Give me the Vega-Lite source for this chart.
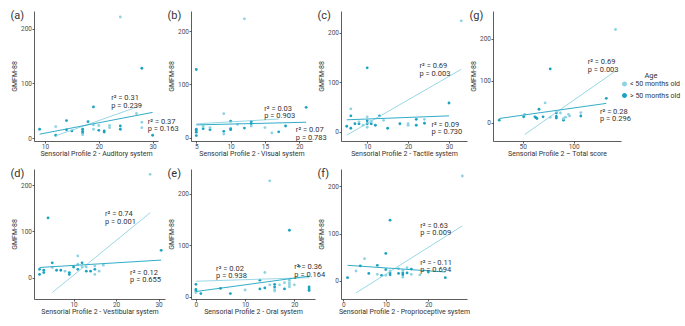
{
"$schema": "https://vega.github.io/schema/vega-lite/v6.json",
"padding": {"left": 10, "top": 10, "right": 5, "bottom": 5},
"background": "white",
"columns": 4,
"bounds": "flush",
"spacing": {"row": 28, "column": 26},
"resolve": {"scale": {"color": "independent", "stroke": "independent"}, "legend": {"color": "independent"}},
"datasets": {
"points": [
{"panel":"a","x":28,"y":128,"Age":"> 50 months old"},{"panel":"a","x":19,"y":57,"Age":"> 50 months old"},{"panel":"a","x":14,"y":32,"Age":"> 50 months old"},{"panel":"a","x":18,"y":30,"Age":"> 50 months old"},{"panel":"a","x":9,"y":16,"Age":"> 50 months old"},{"panel":"a","x":12,"y":5,"Age":"> 50 months old"},{"panel":"a","x":14,"y":15,"Age":"> 50 months old"},{"panel":"a","x":15,"y":13,"Age":"> 50 months old"},{"panel":"a","x":17,"y":16,"Age":"> 50 months old"},{"panel":"a","x":17,"y":12,"Age":"> 50 months old"},{"panel":"a","x":17,"y":9,"Age":"> 50 months old"},{"panel":"a","x":20,"y":14,"Age":"> 50 months old"},{"panel":"a","x":21,"y":13,"Age":"> 50 months old"},{"panel":"a","x":21,"y":11,"Age":"> 50 months old"},{"panel":"a","x":24,"y":22,"Age":"> 50 months old"},{"panel":"a","x":24,"y":16,"Age":"> 50 months old"},{"panel":"a","x":30,"y":5,"Age":"> 50 months old"},
{"panel":"a","x":24,"y":222,"Age":"< 50 months old"},{"panel":"a","x":12,"y":21,"Age":"< 50 months old"},{"panel":"a","x":17,"y":6,"Age":"< 50 months old"},{"panel":"a","x":19,"y":16,"Age":"< 50 months old"},{"panel":"a","x":19,"y":24,"Age":"< 50 months old"},{"panel":"a","x":20,"y":23,"Age":"< 50 months old"},{"panel":"a","x":22,"y":23,"Age":"< 50 months old"},{"panel":"a","x":22,"y":19,"Age":"< 50 months old"},{"panel":"a","x":27,"y":45,"Age":"< 50 months old"},{"panel":"a","x":28,"y":29,"Age":"< 50 months old"},{"panel":"a","x":28,"y":19,"Age":"< 50 months old"},
{"panel":"b","x":5,"y":128,"Age":"> 50 months old"},{"panel":"b","x":21,"y":57,"Age":"> 50 months old"},{"panel":"b","x":10,"y":31,"Age":"> 50 months old"},{"panel":"b","x":13,"y":30,"Age":"> 50 months old"},{"panel":"b","x":13,"y":26,"Age":"> 50 months old"},{"panel":"b","x":5,"y":16,"Age":"> 50 months old"},{"panel":"b","x":5,"y":13,"Age":"> 50 months old"},{"panel":"b","x":5,"y":10,"Age":"> 50 months old"},{"panel":"b","x":5,"y":4,"Age":"> 50 months old"},{"panel":"b","x":6,"y":17,"Age":"> 50 months old"},{"panel":"b","x":7,"y":15,"Age":"> 50 months old"},{"panel":"b","x":9,"y":12,"Age":"> 50 months old"},{"panel":"b","x":10,"y":17,"Age":"> 50 months old"},{"panel":"b","x":10,"y":15,"Age":"> 50 months old"},{"panel":"b","x":12,"y":18,"Age":"> 50 months old"},{"panel":"b","x":17,"y":11,"Age":"> 50 months old"},{"panel":"b","x":18,"y":22,"Age":"> 50 months old"},
{"panel":"b","x":12,"y":223,"Age":"< 50 months old"},{"panel":"b","x":9,"y":45,"Age":"< 50 months old"},{"panel":"b","x":13,"y":22,"Age":"< 50 months old"},{"panel":"b","x":11,"y":25,"Age":"< 50 months old"},{"panel":"b","x":6,"y":21,"Age":"< 50 months old"},{"panel":"b","x":7,"y":19,"Age":"< 50 months old"},{"panel":"b","x":9,"y":7,"Age":"< 50 months old"},{"panel":"b","x":15,"y":19,"Age":"< 50 months old"},{"panel":"b","x":16,"y":9,"Age":"< 50 months old"},
{"panel":"c","x":10,"y":129,"Age":"> 50 months old"},{"panel":"c","x":30,"y":58,"Age":"> 50 months old"},{"panel":"c","x":6,"y":32,"Age":"> 50 months old"},{"panel":"c","x":13,"y":32,"Age":"> 50 months old"},{"panel":"c","x":10,"y":22,"Age":"> 50 months old"},{"panel":"c","x":5,"y":11,"Age":"> 50 months old"},{"panel":"c","x":6,"y":7,"Age":"> 50 months old"},{"panel":"c","x":7,"y":16,"Age":"> 50 months old"},{"panel":"c","x":8,"y":16,"Age":"> 50 months old"},{"panel":"c","x":11,"y":16,"Age":"> 50 months old"},{"panel":"c","x":12,"y":13,"Age":"> 50 months old"},{"panel":"c","x":15,"y":7,"Age":"> 50 months old"},{"panel":"c","x":18,"y":16,"Age":"> 50 months old"},{"panel":"c","x":22,"y":25,"Age":"> 50 months old"},{"panel":"c","x":22,"y":13,"Age":"> 50 months old"},{"panel":"c","x":24,"y":17,"Age":"> 50 months old"},{"panel":"c","x":10,"y":16,"Age":"> 50 months old"},
{"panel":"c","x":33,"y":224,"Age":"< 50 months old"},{"panel":"c","x":6,"y":46,"Age":"< 50 months old"},{"panel":"c","x":10,"y":30,"Age":"< 50 months old"},{"panel":"c","x":10,"y":9,"Age":"< 50 months old"},{"panel":"c","x":8,"y":20,"Age":"< 50 months old"},{"panel":"c","x":9,"y":13,"Age":"< 50 months old"},{"panel":"c","x":11,"y":21,"Age":"< 50 months old"},{"panel":"c","x":14,"y":23,"Age":"< 50 months old"},{"panel":"c","x":20,"y":16,"Age":"< 50 months old"},{"panel":"c","x":20,"y":13,"Age":"< 50 months old"},{"panel":"c","x":24,"y":25,"Age":"< 50 months old"},
{"panel":"g","x":77,"y":128,"Age":"> 50 months old"},{"panel":"g","x":132,"y":58,"Age":"> 50 months old"},{"panel":"g","x":66,"y":32,"Age":"> 50 months old"},{"panel":"g","x":27,"y":6,"Age":"> 50 months old"},{"panel":"g","x":51,"y":14,"Age":"> 50 months old"},{"panel":"g","x":62,"y":14,"Age":"> 50 months old"},{"panel":"g","x":63,"y":12,"Age":"> 50 months old"},{"panel":"g","x":64,"y":10,"Age":"> 50 months old"},{"panel":"g","x":70,"y":14,"Age":"> 50 months old"},{"panel":"g","x":83,"y":23,"Age":"> 50 months old"},{"panel":"g","x":83,"y":15,"Age":"> 50 months old"},{"panel":"g","x":83,"y":11,"Age":"> 50 months old"},{"panel":"g","x":90,"y":6,"Age":"> 50 months old"},{"panel":"g","x":107,"y":16,"Age":"> 50 months old"},
{"panel":"g","x":141,"y":222,"Age":"< 50 months old"},{"panel":"g","x":72,"y":47,"Age":"< 50 months old"},{"panel":"g","x":52,"y":20,"Age":"< 50 months old"},{"panel":"g","x":77,"y":13,"Age":"< 50 months old"},{"panel":"g","x":87,"y":23,"Age":"< 50 months old"},{"panel":"g","x":90,"y":10,"Age":"< 50 months old"},{"panel":"g","x":92,"y":13,"Age":"< 50 months old"},{"panel":"g","x":95,"y":20,"Age":"< 50 months old"},{"panel":"g","x":96,"y":16,"Age":"< 50 months old"},{"panel":"g","x":107,"y":24,"Age":"< 50 months old"},
{"panel":"d","x":4,"y":129,"Age":"> 50 months old"},{"panel":"d","x":30.6,"y":59,"Age":"> 50 months old"},{"panel":"d","x":5,"y":32,"Age":"> 50 months old"},{"panel":"d","x":12,"y":32,"Age":"> 50 months old"},{"panel":"d","x":2,"y":18,"Age":"> 50 months old"},{"panel":"d","x":2,"y":7,"Age":"> 50 months old"},{"panel":"d","x":3,"y":16,"Age":"> 50 months old"},{"panel":"d","x":3,"y":11,"Age":"> 50 months old"},{"panel":"d","x":6,"y":16,"Age":"> 50 months old"},{"panel":"d","x":7,"y":16,"Age":"> 50 months old"},{"panel":"d","x":9,"y":11,"Age":"> 50 months old"},{"panel":"d","x":9,"y":7,"Age":"> 50 months old"},{"panel":"d","x":10,"y":23,"Age":"> 50 months old"},{"panel":"d","x":11,"y":18,"Age":"> 50 months old"},{"panel":"d","x":13,"y":14,"Age":"> 50 months old"},{"panel":"d","x":14,"y":14,"Age":"> 50 months old"},{"panel":"d","x":15,"y":18,"Age":"> 50 months old"},
{"panel":"d","x":28,"y":223,"Age":"< 50 months old"},{"panel":"d","x":11,"y":47,"Age":"< 50 months old"},{"panel":"d","x":11,"y":29,"Age":"< 50 months old"},{"panel":"d","x":5,"y":22,"Age":"< 50 months old"},{"panel":"d","x":8,"y":14,"Age":"< 50 months old"},{"panel":"d","x":12,"y":23,"Age":"< 50 months old"},{"panel":"d","x":13,"y":23,"Age":"< 50 months old"},{"panel":"d","x":15,"y":25,"Age":"< 50 months old"},{"panel":"d","x":15,"y":7,"Age":"< 50 months old"},{"panel":"d","x":16,"y":14,"Age":"< 50 months old"},{"panel":"d","x":17,"y":27,"Age":"< 50 months old"},
{"panel":"e","x":19,"y":129,"Age":"> 50 months old"},{"panel":"e","x":21,"y":59,"Age":"> 50 months old"},{"panel":"e","x":13,"y":32,"Age":"> 50 months old"},{"panel":"e","x":0,"y":24,"Age":"> 50 months old"},{"panel":"e","x":0,"y":14,"Age":"> 50 months old"},{"panel":"e","x":0,"y":11,"Age":"> 50 months old"},{"panel":"e","x":1,"y":6,"Age":"> 50 months old"},{"panel":"e","x":5,"y":16,"Age":"> 50 months old"},{"panel":"e","x":7,"y":6,"Age":"> 50 months old"},{"panel":"e","x":13,"y":15,"Age":"> 50 months old"},{"panel":"e","x":14,"y":17,"Age":"> 50 months old"},{"panel":"e","x":16,"y":24,"Age":"> 50 months old"},{"panel":"e","x":16,"y":19,"Age":"> 50 months old"},{"panel":"e","x":18,"y":15,"Age":"> 50 months old"},{"panel":"e","x":23,"y":19,"Age":"> 50 months old"},{"panel":"e","x":23,"y":15,"Age":"> 50 months old"},{"panel":"e","x":23,"y":12,"Age":"> 50 months old"},
{"panel":"e","x":15,"y":225,"Age":"< 50 months old"},{"panel":"e","x":14,"y":47,"Age":"< 50 months old"},{"panel":"e","x":0,"y":8,"Age":"< 50 months old"},{"panel":"e","x":10,"y":13,"Age":"< 50 months old"},{"panel":"e","x":15,"y":23,"Age":"< 50 months old"},{"panel":"e","x":16,"y":14,"Age":"< 50 months old"},{"panel":"e","x":16,"y":11,"Age":"< 50 months old"},{"panel":"e","x":17,"y":23,"Age":"< 50 months old"},{"panel":"e","x":18,"y":27,"Age":"< 50 months old"},{"panel":"e","x":19,"y":32,"Age":"< 50 months old"},{"panel":"e","x":19,"y":27,"Age":"< 50 months old"},{"panel":"e","x":19,"y":23,"Age":"< 50 months old"},{"panel":"e","x":19,"y":19,"Age":"< 50 months old"},{"panel":"e","x":20,"y":23,"Age":"< 50 months old"},
{"panel":"f","x":11,"y":128,"Age":"> 50 months old"},{"panel":"f","x":10,"y":58,"Age":"> 50 months old"},{"panel":"f","x":4,"y":32,"Age":"> 50 months old"},{"panel":"f","x":8,"y":33,"Age":"> 50 months old"},{"panel":"f","x":1,"y":7,"Age":"> 50 months old"},{"panel":"f","x":6,"y":16,"Age":"> 50 months old"},{"panel":"f","x":9,"y":12,"Age":"> 50 months old"},{"panel":"f","x":10,"y":24,"Age":"> 50 months old"},{"panel":"f","x":11,"y":17,"Age":"> 50 months old"},{"panel":"f","x":11,"y":13,"Age":"> 50 months old"},{"panel":"f","x":13,"y":16,"Age":"> 50 months old"},{"panel":"f","x":14,"y":17,"Age":"> 50 months old"},{"panel":"f","x":14,"y":13,"Age":"> 50 months old"},{"panel":"f","x":15,"y":17,"Age":"> 50 months old"},{"panel":"f","x":16,"y":25,"Age":"> 50 months old"},{"panel":"f","x":20,"y":19,"Age":"> 50 months old"},{"panel":"f","x":24,"y":7,"Age":"> 50 months old"},
{"panel":"f","x":28,"y":221,"Age":"< 50 months old"},{"panel":"f","x":5,"y":47,"Age":"< 50 months old"},{"panel":"f","x":3,"y":21,"Age":"< 50 months old"},{"panel":"f","x":8,"y":14,"Age":"< 50 months old"},{"panel":"f","x":10,"y":12,"Age":"< 50 months old"},{"panel":"f","x":11,"y":21,"Age":"< 50 months old"},{"panel":"f","x":13,"y":26,"Age":"< 50 months old"},{"panel":"f","x":14,"y":22,"Age":"< 50 months old"},{"panel":"f","x":14,"y":8,"Age":"< 50 months old"},{"panel":"f","x":15,"y":28,"Age":"< 50 months old"},{"panel":"f","x":16,"y":14,"Age":"< 50 months old"},{"panel":"f","x":18,"y":13,"Age":"< 50 months old"}
],
"lines": [
{"panel":"a","Age":"< 50 months old","x":12,"y":4,"x2":28,"y2":60},{"panel":"a","Age":"> 50 months old","x":9,"y":7,"x2":30,"y2":47},
{"panel":"b","Age":"< 50 months old","x":5,"y":26,"x2":17,"y2":35},{"panel":"b","Age":"> 50 months old","x":5,"y":24,"x2":21,"y2":29},
{"panel":"c","Age":"< 50 months old","x":5,"y":-7,"x2":33,"y2":126},{"panel":"c","Age":"> 50 months old","x":5,"y":24,"x2":30,"y2":32},
{"panel":"g","Age":"< 50 months old","x":52,"y":-28,"x2":141,"y2":123},{"panel":"g","Age":"> 50 months old","x":27,"y":10,"x2":132,"y2":46},
{"panel":"d","Age":"< 50 months old","x":5,"y":-32,"x2":28,"y2":140},{"panel":"d","Age":"> 50 months old","x":2,"y":22,"x2":30.6,"y2":38},
{"panel":"e","Age":"< 50 months old","x":0,"y":30,"x2":23,"y2":37},{"panel":"e","Age":"> 50 months old","x":0,"y":10,"x2":23,"y2":40},
{"panel":"f","Age":"< 50 months old","x":3,"y":-25,"x2":28,"y2":116},{"panel":"f","Age":"> 50 months old","x":1,"y":33,"x2":24,"y2":19}
],
"notes": [
{"panel":"a","x":22.3,"y":72.5,"text":"r² = 0.31\np = 0.239"},{"panel":"a","x":29.1,"y":29.5,"text":"r² = 0.37\np = 0.163"},
{"panel":"b","x":14.9,"y":54.5,"text":"r² = 0.03\np = 0.903"},{"panel":"b","x":19.5,"y":13.5,"text":"r² = 0.07\np = 0.783"},
{"panel":"c","x":22.8,"y":132,"text":"r² = 0.69\np = 0.003"},{"panel":"c","x":25.7,"y":14.5,"text":"r² = 0.09\np = 0.730"},
{"panel":"g","x":113.7,"y":144.5,"text":"r² = 0.69\np = 0.003"},{"panel":"g","x":125.8,"y":25.5,"text":"r² = 0.28\np = 0.296"},
{"panel":"d","x":17.4,"y":136.5,"text":"r² = 0.74\np = 0.001"},{"panel":"d","x":23.3,"y":10.5,"text":"r² = 0.12\np = 0.655"},
{"panel":"e","x":4.1,"y":54.3,"text":"r² = 0.02\np = 0.938"},{"panel":"e","x":20,"y":57.4,"text":"r² = 0.36\np = 0.164"},
{"panel":"f","x":18.1,"y":116.5,"text":"r² = 0.63\np = 0.009"},{"panel":"f","x":18.1,"y":38.3,"text":"r² = - 0.11\np = 0.694"}
]
},
"concat": [
{"title":"(a)","width":124,"height":130,"layer":[
{"data":{"name":"points"},"transform":[{"filter":"datum.panel === 'a'"}],"mark":{"type":"circle","size":8,"opacity":1},
"encoding":{"x":{"field":"x","type":"quantitative","scale":{"domain":[7.96,31],"nice":false,"zero":false},"axis":{"title":"Sensorial Profile 2 - Auditory system","values":[10,15,20,25,30]}},
"y":{"field":"y","type":"quantitative","scale":{"domain":[-5.5,233],"nice":false,"zero":false},"axis":{"title":"GMFM-88","values":[0,50,100,150,200]}},
"color":{"field":"Age","type":"nominal","scale":{"domain":["< 50 months old","> 50 months old"],"range":["#8dd3e2","#1ba3c1"]},"legend":null}}},
{"data":{"name":"lines"},"transform":[{"filter":"datum.panel === 'a'"}],"mark":{"type":"rule","strokeWidth":0.9},
"encoding":{"x":{"field":"x","type":"quantitative"},"y":{"field":"y","type":"quantitative"},"x2":{"field":"x2"},"y2":{"field":"y2"},
"stroke":{"field":"Age","type":"nominal","scale":{"domain":["< 50 months old","> 50 months old"],"range":["#8dd3e2","#1ba3c1"]},"legend":null}}},
{"data":{"name":"notes"},"transform":[{"filter":"datum.panel === 'a'"}],"mark":{"type":"text","align":"left","baseline":"middle","fontSize":7.5,"lineBreak":"\n","lineHeight":7.5,"color":"#333333"},
"encoding":{"x":{"field":"x","type":"quantitative"},"y":{"field":"y","type":"quantitative"},"text":{"field":"text"}}}
]},
{"title":"(b)","width":121,"height":130,"layer":[
{"data":{"name":"points"},"transform":[{"filter":"datum.panel === 'b'"}],"mark":{"type":"circle","size":8,"opacity":1},
"encoding":{"x":{"field":"x","type":"quantitative","scale":{"domain":[4.23,21.85],"nice":false,"zero":false},"axis":{"title":"Sensorial Profile 2 - Visual system","values":[5,10,15,20]}},
"y":{"field":"y","type":"quantitative","scale":{"domain":[-6.2,237.7],"nice":false,"zero":false},"axis":{"title":"GMFM-88","values":[0,50,100,150,200]}},
"color":{"field":"Age","type":"nominal","scale":{"domain":["< 50 months old","> 50 months old"],"range":["#8dd3e2","#1ba3c1"]},"legend":null}}},
{"data":{"name":"lines"},"transform":[{"filter":"datum.panel === 'b'"}],"mark":{"type":"rule","strokeWidth":0.9},
"encoding":{"x":{"field":"x","type":"quantitative"},"y":{"field":"y","type":"quantitative"},"x2":{"field":"x2"},"y2":{"field":"y2"},
"stroke":{"field":"Age","type":"nominal","scale":{"domain":["< 50 months old","> 50 months old"],"range":["#8dd3e2","#1ba3c1"]},"legend":null}}},
{"data":{"name":"notes"},"transform":[{"filter":"datum.panel === 'b'"}],"mark":{"type":"text","align":"left","baseline":"middle","fontSize":7.5,"lineBreak":"\n","lineHeight":7.5,"color":"#333333"},
"encoding":{"x":{"field":"x","type":"quantitative"},"y":{"field":"y","type":"quantitative"},"text":{"field":"text"}}}
]},
{"title":"(c)","width":126,"height":130,"layer":[
{"data":{"name":"points"},"transform":[{"filter":"datum.panel === 'c'"}],"mark":{"type":"circle","size":8,"opacity":1},
"encoding":{"x":{"field":"x","type":"quantitative","scale":{"domain":[3.6,34.4],"nice":false,"zero":false},"axis":{"title":"Sensorial Profile 2 - Tactile system","values":[10,20,30]}},
"y":{"field":"y","type":"quantitative","scale":{"domain":[-18.8,243.8],"nice":false,"zero":false},"axis":{"title":"GMFM-88","values":[0,50,100,150,200]}},
"color":{"field":"Age","type":"nominal","scale":{"domain":["< 50 months old","> 50 months old"],"range":["#8dd3e2","#1ba3c1"]},"legend":null}}},
{"data":{"name":"lines"},"transform":[{"filter":"datum.panel === 'c'"}],"mark":{"type":"rule","strokeWidth":0.9},
"encoding":{"x":{"field":"x","type":"quantitative"},"y":{"field":"y","type":"quantitative"},"x2":{"field":"x2"},"y2":{"field":"y2"},
"stroke":{"field":"Age","type":"nominal","scale":{"domain":["< 50 months old","> 50 months old"],"range":["#8dd3e2","#1ba3c1"]},"legend":null}}},
{"data":{"name":"notes"},"transform":[{"filter":"datum.panel === 'c'"}],"mark":{"type":"text","align":"left","baseline":"middle","fontSize":7.5,"lineBreak":"\n","lineHeight":7.5,"color":"#333333"},
"encoding":{"x":{"field":"x","type":"quantitative"},"y":{"field":"y","type":"quantitative"},"text":{"field":"text"}}}
]},
{"title":"(g)","width":128,"height":130,"layer":[
{"data":{"name":"points"},"transform":[{"filter":"datum.panel === 'g'"}],"mark":{"type":"circle","size":8,"opacity":1},
"encoding":{"x":{"field":"x","type":"quantitative","scale":{"domain":[20.9,146.4],"nice":false,"zero":false},"axis":{"title":"Sensorial Profile 2 – Total score","values":[50,100]}},
"y":{"field":"y","type":"quantitative","scale":{"domain":[-43.6,266],"nice":false,"zero":false},"axis":{"title":"GMFM-88","values":[0,50,100,150,200]}},
"color":{"field":"Age","type":"nominal","scale":{"domain":["< 50 months old","> 50 months old"],"range":["#8dd3e2","#1ba3c1"]},
"legend":{"title":"Age","orient":"none","legendX":128,"legendY":61,"symbolType":"circle","symbolSize":12,"titleAnchor":"middle","titleFontSize":7.5,"titleFontWeight":"normal","titleColor":"#333333","labelFontSize":7,"labelColor":"#333333","rowPadding":0.6,"titlePadding":1,"labelOffset":2}}}},
{"data":{"name":"lines"},"transform":[{"filter":"datum.panel === 'g'"}],"mark":{"type":"rule","strokeWidth":0.9},
"encoding":{"x":{"field":"x","type":"quantitative"},"y":{"field":"y","type":"quantitative"},"x2":{"field":"x2"},"y2":{"field":"y2"},
"stroke":{"field":"Age","type":"nominal","scale":{"domain":["< 50 months old","> 50 months old"],"range":["#8dd3e2","#1ba3c1"]},"legend":null}}},
{"data":{"name":"notes"},"transform":[{"filter":"datum.panel === 'g'"}],"mark":{"type":"text","align":"left","baseline":"middle","fontSize":7.5,"lineBreak":"\n","lineHeight":7.5,"color":"#333333"},
"encoding":{"x":{"field":"x","type":"quantitative"},"y":{"field":"y","type":"quantitative"},"text":{"field":"text"}}}
]},
{"title":"(d)","width":131,"height":130,"layer":[
{"data":{"name":"points"},"transform":[{"filter":"datum.panel === 'd'"}],"mark":{"type":"circle","size":8,"opacity":1},
"encoding":{"x":{"field":"x","type":"quantitative","scale":{"domain":[0.7,31.5],"nice":false,"zero":false},"axis":{"title":"Sensorial Profile 2 - Vestibular system","values":[10,20,30]}},
"y":{"field":"y","type":"quantitative","scale":{"domain":[-46,234.6],"nice":false,"zero":false},"axis":{"title":"GMFM-88","values":[0,50,100,150,200]}},
"color":{"field":"Age","type":"nominal","scale":{"domain":["< 50 months old","> 50 months old"],"range":["#8dd3e2","#1ba3c1"]},"legend":null}}},
{"data":{"name":"lines"},"transform":[{"filter":"datum.panel === 'd'"}],"mark":{"type":"rule","strokeWidth":0.9},
"encoding":{"x":{"field":"x","type":"quantitative"},"y":{"field":"y","type":"quantitative"},"x2":{"field":"x2"},"y2":{"field":"y2"},
"stroke":{"field":"Age","type":"nominal","scale":{"domain":["< 50 months old","> 50 months old"],"range":["#8dd3e2","#1ba3c1"]},"legend":null}}},
{"data":{"name":"notes"},"transform":[{"filter":"datum.panel === 'd'"}],"mark":{"type":"text","align":"left","baseline":"middle","fontSize":7.5,"lineBreak":"\n","lineHeight":7.5,"color":"#333333"},
"encoding":{"x":{"field":"x","type":"quantitative"},"y":{"field":"y","type":"quantitative"},"text":{"field":"text"}}}
]},
{"title":"(e)","width":124,"height":130,"layer":[
{"data":{"name":"points"},"transform":[{"filter":"datum.panel === 'e'"}],"mark":{"type":"circle","size":8,"opacity":1},
"encoding":{"x":{"field":"x","type":"quantitative","scale":{"domain":[-1.0,24.2],"nice":false,"zero":false},"axis":{"title":"Sensorial Profile 2 - Oral system","values":[0,5,10,15,20]}},
"y":{"field":"y","type":"quantitative","scale":{"domain":[-4.5,248],"nice":false,"zero":false},"axis":{"title":"GMFM-88","values":[0,50,100,150,200]}},
"color":{"field":"Age","type":"nominal","scale":{"domain":["< 50 months old","> 50 months old"],"range":["#8dd3e2","#1ba3c1"]},"legend":null}}},
{"data":{"name":"lines"},"transform":[{"filter":"datum.panel === 'e'"}],"mark":{"type":"rule","strokeWidth":0.9},
"encoding":{"x":{"field":"x","type":"quantitative"},"y":{"field":"y","type":"quantitative"},"x2":{"field":"x2"},"y2":{"field":"y2"},
"stroke":{"field":"Age","type":"nominal","scale":{"domain":["< 50 months old","> 50 months old"],"range":["#8dd3e2","#1ba3c1"]},"legend":null}}},
{"data":{"name":"notes"},"transform":[{"filter":"datum.panel === 'e'"}],"mark":{"type":"text","align":"left","baseline":"middle","fontSize":7.5,"lineBreak":"\n","lineHeight":7.5,"color":"#333333"},
"encoding":{"x":{"field":"x","type":"quantitative"},"y":{"field":"y","type":"quantitative"},"text":{"field":"text"}}}
]},
{"title":"(f)","width":126,"height":130,"layer":[
{"data":{"name":"points"},"transform":[{"filter":"datum.panel === 'f'"}],"mark":{"type":"circle","size":8,"opacity":1},
"encoding":{"x":{"field":"x","type":"quantitative","scale":{"domain":[-0.54,29.1],"nice":false,"zero":false},"axis":{"title":"Sensorial Profile 2 - Proprioceptive system","values":[0,10,20]}},
"y":{"field":"y","type":"quantitative","scale":{"domain":[-37.9,235.8],"nice":false,"zero":false},"axis":{"title":"GMFM-88","values":[0,50,100,150,200]}},
"color":{"field":"Age","type":"nominal","scale":{"domain":["< 50 months old","> 50 months old"],"range":["#8dd3e2","#1ba3c1"]},"legend":null}}},
{"data":{"name":"lines"},"transform":[{"filter":"datum.panel === 'f'"}],"mark":{"type":"rule","strokeWidth":0.9},
"encoding":{"x":{"field":"x","type":"quantitative"},"y":{"field":"y","type":"quantitative"},"x2":{"field":"x2"},"y2":{"field":"y2"},
"stroke":{"field":"Age","type":"nominal","scale":{"domain":["< 50 months old","> 50 months old"],"range":["#8dd3e2","#1ba3c1"]},"legend":null}}},
{"data":{"name":"notes"},"transform":[{"filter":"datum.panel === 'f'"}],"mark":{"type":"text","align":"left","baseline":"middle","fontSize":7.5,"lineBreak":"\n","lineHeight":7.5,"color":"#333333"},
"encoding":{"x":{"field":"x","type":"quantitative"},"y":{"field":"y","type":"quantitative"},"text":{"field":"text"}}}
]}
],
"config": {
"font": "Roboto",
"view": {"stroke": null},
"axis": {"grid": false, "domainColor": "#333333", "domainWidth": 0.8, "tickColor": "#333333", "tickSize": 2, "tickWidth": 0.8, "labelFontSize": 6.5, "labelColor": "#4d4d4d", "labelPadding": 0.5, "titleFontSize": 7, "titleFontWeight": "normal", "titleColor": "#333333", "titlePadding": -1},
"axisY": {"titlePadding": 3},
"title": {"fontSize": 11, "fontWeight": "normal", "color": "#333333", "anchor": "start", "frame": "bounds", "offset": -10, "baseline": "alphabetic"}
}
}
